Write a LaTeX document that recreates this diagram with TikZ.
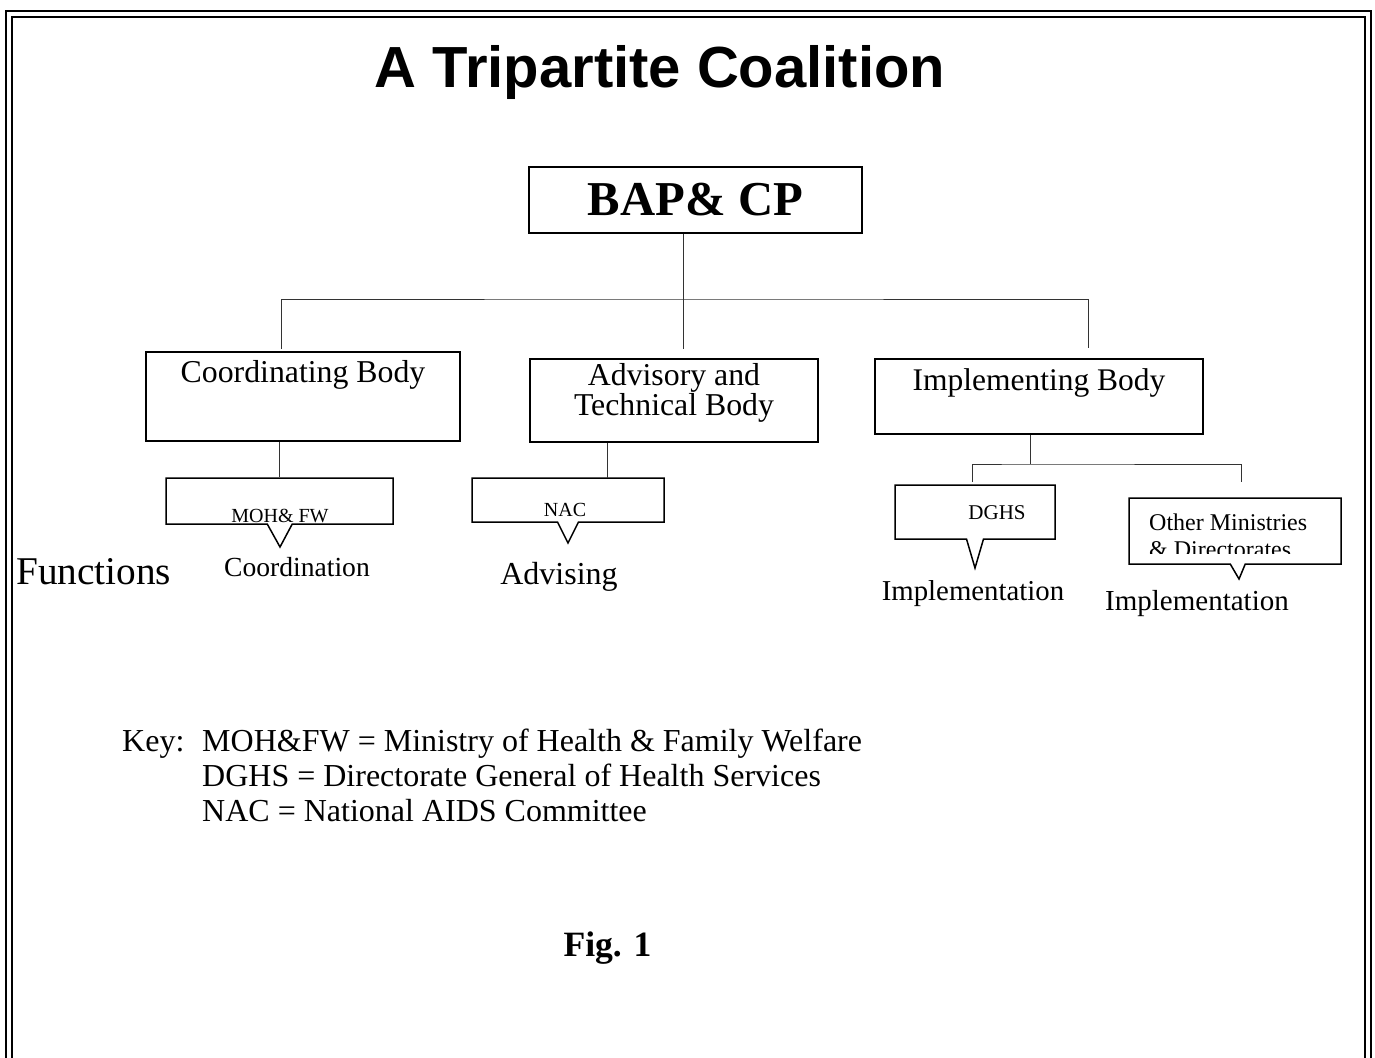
\documentclass[tikz,border=0pt]{standalone}
\usepackage{fontspec}
\setmainfont{Liberation Serif}
\newfontfamily\titlefont{Liberation Sans}
\usetikzlibrary{shapes.callouts, positioning}
\tikzstyle{frame} = [line width=2pt, draw=black]
\tikzstyle{unit} = [rectangle, draw=black, line width=1.5pt, inner sep=0pt]
\tikzstyle{callbox} = [rectangle callout, draw=black, fill=white, line width=1.5pt, inner sep=0pt]
\tikzstyle{link} = [line width=1pt, draw=black!80]
\tikzstyle{txt} = [inner sep=0pt, anchor=base]
\newcommand{\fs}[1]{\fontsize{#1}{#1}\selectfont}

\begin{document}
\begin{tikzpicture}[x=1pt, y=-1pt]
\useasboundingbox (0,0) rectangle (1375,1057);

% Frame
\draw[frame] (6,1070) |- (1370.5,11) -- (1370.5,1070);
\draw[frame] (12,1070) |- (1365,17) -- (1365,1070);

% Title
\node[txt] (title) at (660,87) {\titlefont\bfseries\fs{58}A Tripartite Coalition};

% Nodes
\node[unit, minimum width=333pt, minimum height=66pt] (bap) at (695.5,200) {\fs{48.7}\bfseries BAP\& CP};
\node[unit, minimum width=314pt, minimum height=89pt] (coord) at (303,396.5) {};
\node[unit, minimum width=288pt, minimum height=83pt] (adv) at (674,400.5) {};
\node[unit, minimum width=328pt, minimum height=75pt] (imp) at (1039,396.5) {};

\node[txt] (coordtext) at (303,382) {\fs{31.8}Coordinating Body};
\node[txt] (advtext) at (674,385) {\fs{31.8}Advisory and};
\node[txt] (advtext2) at (674,415) {\fs{31.8}Technical Body};
\node[txt] (imptext) at (1039,390) {\fs{31.5}Implementing Body};

% Callouts
\node[callbox, minimum width=227pt, minimum height=46pt, callout pointer width=25pt,
      callout absolute pointer={(280,547)}] (moh) at (279.5,501) {};
\node[callbox, minimum width=192pt, minimum height=44pt, callout pointer width=21pt,
      callout absolute pointer={(568,543)}] (nac) at (568,500) {};
\node[callbox, minimum width=160pt, minimum height=54pt, callout pointer width=17pt,
      callout absolute pointer={(975,568)}] (dghs) at (975,512) {};
\node[callbox, minimum width=212pt, minimum height=66pt, callout pointer width=15pt,
      callout absolute pointer={(1239,579)}] (omd) at (1235,531) {};

\node[txt] (mohtext) at (280,522) {\fs{20}MOH\& FW};
\node[txt] (nactext) at (565,516) {\fs{20}NAC};
\node[txt] (dghstext) at (997,519) {\fs{21}DGHS};
\begin{scope}
\clip (omd.north west) rectangle (1341,553);
\node[txt, anchor=base west] (omdtext) at (1149,530) {\fs{24}Other Ministries};
\node[txt, anchor=base west] (omdtext2) at (1149,557) {\fs{24}\& Directorates};
\end{scope}

% Functions
\node[txt, anchor=base west] (func) at (16,584) {\fs{39.3}Functions};
\node[txt] (fcoord) at (297,576) {\fs{27.6}Coordination};
\node[txt] (fadv) at (559,584) {\fs{32}Advising};
\node[txt] (fimp) at (973,600) {\fs{28.8}Implementation};
\node[txt] (fimp2) at (1197,610) {\fs{29}Implementation};

% Connectors
\coordinate (hub) at (683,299);
\coordinate (ab-top) at (683,349);
\coordinate (cb-top) at (281,349);
\coordinate (ib-top) at (1088,348);
\draw[link] (bap.south -| ab-top) -- (ab-top);
\draw[link] (cb-top) |- (hub) -| (ib-top);
\draw[link] (coord.south -| moh.north) -- (moh.north);
\coordinate (nac-in) at (607,478);
\draw[link] (adv.south -| nac-in) -- (nac-in);
\coordinate (ib-hub) at (1030,464);
\coordinate (dg-top) at (972,482);
\coordinate (om-top) at (1241,482);
\draw[link] (imp.south -| ib-hub) -- (ib-hub);
\draw[link] (dg-top) |- (ib-hub) -| (om-top);

% Key
\node[txt, anchor=base west] (key) at (122,751) {\fs{32}Key:};
\node[txt, anchor=base west] (key1) at (202,751) {\fs{32}MOH\&FW = Ministry of Health \& Family Welfare};
\node[txt, anchor=base west] (key2) at (202,786) {\fs{32}DGHS = Directorate General of Health Services};
\node[txt, anchor=base west] (key3) at (202,821) {\fs{32}NAC = National AIDS Committee};

% Caption
\node[txt] (fig) at (607.5,956) {\fs{35.6}\bfseries Fig. 1};

\end{tikzpicture}
\end{document}
